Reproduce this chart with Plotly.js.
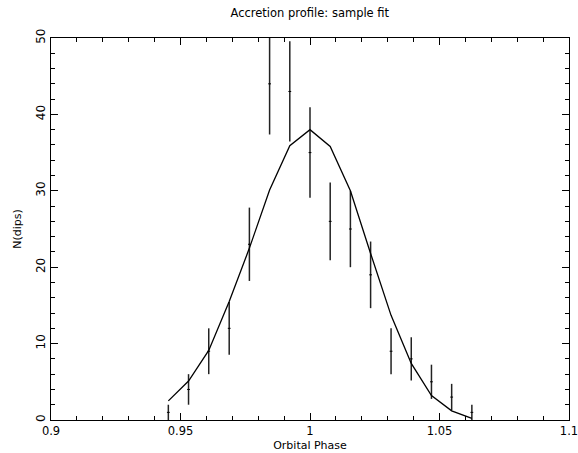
<!DOCTYPE html>
<html>
<head>
<meta charset="utf-8">
<script src="https://cdn.plot.ly/plotly-3.0.1.min.js"></script>
<style>html,body{margin:0;padding:0;background:#fff;}#chart{width:578px;height:453px;}</style>
</head>
<body>
<div id="chart"></div>
<script>
// Data
const phase = [0.9453, 0.9531, 0.9609, 0.9688, 0.9766, 0.9844, 0.9922, 1.0000,
               1.0078, 1.0156, 1.0234, 1.0313, 1.0391, 1.0469, 1.0547, 1.0625];
const counts = [1, 4, 9, 12, 23, 44, 43, 35, 26, 25, 19, 9, 8, 5, 3, 1];
const countErr = [1, 2, 3, 3.46, 4.8, 6.63, 6.56, 5.92, 5.1, 5, 4.36, 3, 2.83, 2.24, 1.73, 1];
const modelFit = [2.5, 5.1, 9.1, 15.5, 22.5, 30.1, 35.9, 38.0, 35.8, 30.0, 21.8, 13.7, 7.4, 3.2, 1.2, 0.2];
const xTickVals = [0.9, 0.95, 1, 1.05, 1.1];
const xTickText = ['0.9', '0.95', '1', '1.05', '1.1'];

const fontFam = '"DejaVu Sans", "Liberation Sans", sans-serif';

const traces = [
  {
    x: phase, y: counts, type: 'scatter', mode: 'markers',
    marker: {symbol: 'line-ew', size: 2, color: '#000', line: {width: 1, color: '#000'}},
    error_y: {type: 'data', array: countErr, visible: true, width: 0, thickness: 1.5, color: '#222'},
    showlegend: false
  },
  {
    x: phase, y: modelFit, type: 'scatter', mode: 'lines',
    line: {color: '#000', width: 1.3}, showlegend: false
  }
];

const axisCommon = {
  showline: true, linecolor: '#000', linewidth: 1.3, mirror: 'ticks',
  ticks: 'inside', ticklen: 7, tickwidth: 1, tickcolor: '#000',
  showgrid: false, zeroline: false, ticklabeloverflow: 'allow',
  tickfont: {family: fontFam, size: 12, color: '#000'}
};

const layout = {
  width: 578, height: 453,
  margin: {l: 51, r: 9, t: 38, b: 33},
  paper_bgcolor: '#fff', plot_bgcolor: '#fff',
  title: {text: 'Accretion profile: sample fit', font: {family: fontFam, size: 11.5, color: '#000'},
          x: 0.536, xanchor: 'center', y: 0.972, yanchor: 'middle'},
  xaxis: Object.assign({}, axisCommon, {
    range: [0.89999, 1.10001], tickmode: 'array', tickvals: xTickVals, ticktext: xTickText,
    tickfont: {family: fontFam, size: 11.5, color: '#000'},
    minor: {dtick: 0.01, tick0: 0.9, ticks: 'inside', ticklen: 4, tickcolor: '#000', showgrid: false},
    title: {text: 'Orbital Phase', font: {family: fontFam, size: 11, color: '#000'}, standoff: 4}
  }),
  yaxis: Object.assign({}, axisCommon, {
    range: [0, 50], dtick: 10, tick0: 0, tickangle: -90,
    minor: {dtick: 2, ticks: 'inside', ticklen: 4, tickcolor: '#000', showgrid: false},
    title: {text: 'N(dips)', font: {family: fontFam, size: 11, color: '#000'}, standoff: 10}
  })
};

Plotly.newPlot('chart', traces, layout, {displayModeBar: false, staticPlot: true});
</script>
</body>
</html>
